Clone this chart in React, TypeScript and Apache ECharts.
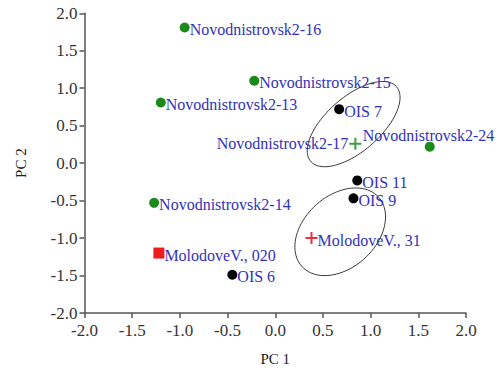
import React, { useEffect, useRef } from "react";
import * as echarts from "echarts";

// ---- data ----
const sampleNames = [
  "Novodnistrovsk2-16",
  "Novodnistrovsk2-15",
  "Novodnistrovsk2-13",
  "Novodnistrovsk2-14",
  "Novodnistrovsk2-24",
  "Novodnistrovsk2-17",
  "OIS 7",
  "OIS 11",
  "OIS 9",
  "OIS 6",
  "MolodoveV., 020",
  "MolodoveV., 31",
];
const pc1Values = [-0.95, -0.22, -1.2, -1.27, 1.62, 0.84, 0.67, 0.86, 0.82, -0.45, -1.22, 0.38];
const pc2Values = [1.81, 1.1, 0.81, -0.53, 0.22, 0.26, 0.72, -0.23, -0.47, -1.49, -1.2, -1.0];
const sampleGroups = [
  "novoDot", "novoDot", "novoDot", "novoDot", "novoDot", "novoPlus",
  "oisDot", "oisDot", "oisDot", "oisDot",
  "molSquare", "molPlus",
];
const axisTicks = [-2.0, -1.5, -1.0, -0.5, 0.0, 0.5, 1.0, 1.5, 2.0];

// confidence ellipses: center and two semi-axis vectors (data units)
const ellipseCenters = [
  [0.822, 0.521],
  [0.681, -0.916],
];
const ellipseMajor = [
  [0.448, 0.501],
  [0.398, 0.468],
];
const ellipseMinor = [
  [0.19, -0.27],
  [0.26, -0.351],
];

// ---- styles / layout ----
const PLUS = "path://M5,0H7V5H12V7H7V12H5V7H0V5H5Z";
const groupStyle: Record<string, any> = {
  novoDot: { symbol: "circle", size: 10, color: "#1b8a1b" },
  novoPlus: { symbol: PLUS, size: 12, color: "#3d9e3d" },
  oisDot: { symbol: "circle", size: 10, color: "#000000" },
  molSquare: { symbol: "rect", size: 11, color: "#ee1c1c" },
  molPlus: { symbol: PLUS, size: 12, color: "#e8303a" },
};
const labelPlacement: Record<string, any> = {
  "Novodnistrovsk2-17": { position: "left", distance: 1, offset: [0, 0] },
  "Novodnistrovsk2-24": { position: "right", distance: 0, offset: [-72, -11] },
};

export default function App() {
  const ref = useRef<HTMLDivElement>(null);
  useEffect(() => {
    document.body.style.margin = "0";
    const chart = echarts.init(ref.current!, null, { renderer: "svg" });
    const groupsOrder = ["novoDot", "novoPlus", "oisDot", "molSquare", "molPlus"];
    const scatterSeries = groupsOrder.map((g) => {
      const st = groupStyle[g];
      const data = sampleNames
        .map((n, i) => ({ n, i }))
        .filter((d) => sampleGroups[d.i] === g)
        .map(({ n, i }) => {
          const lp = labelPlacement[n] || { position: "right", distance: 0, offset: [0, 2] };
          return {
            name: n,
            value: [pc1Values[i], pc2Values[i]],
            label: {
              show: true,
              formatter: n,
              position: lp.position,
              distance: lp.distance,
              offset: lp.offset,
            },
          };
        });
      return {
        type: "scatter",
        symbol: st.symbol,
        symbolSize: st.size,
        itemStyle: { color: st.color, opacity: 1 },
        label: {
          color: "#3232bc",
          fontFamily: "Liberation Serif",
          fontSize: 16,
        },
        data,
        z: 3,
      };
    });
    const ellipseSeries = {
      type: "custom",
      coordinateSystem: "cartesian2d",
      data: ellipseCenters.map((c) => c),
      silent: true,
      z: 2,
      renderItem: (params: any, api: any) => {
        const k = params.dataIndex;
        const c = ellipseCenters[k];
        const a = ellipseMajor[k];
        const b = ellipseMinor[k];
        const pts: number[][] = [];
        for (let j = 0; j < 90; j++) {
          const t = (j / 90) * Math.PI * 2;
          const x = c[0] + a[0] * Math.cos(t) + b[0] * Math.sin(t);
          const y = c[1] + a[1] * Math.cos(t) + b[1] * Math.sin(t);
          pts.push(api.coord([x, y]));
        }
        return {
          type: "polygon",
          shape: { points: pts },
          style: { fill: "none", stroke: "#3a3a3a", lineWidth: 1 },
        };
      },
    };
    const axisCommon = {
      type: "value",
      min: axisTicks[0],
      max: axisTicks[axisTicks.length - 1],
      interval: 0.5,
      splitLine: { show: false },
      axisLine: { show: true, onZero: false, lineStyle: { color: "#555", width: 1.5 } },
      axisTick: { show: true, inside: false, length: 5, lineStyle: { color: "#555", width: 1.5 } },
      nameLocation: "middle",
      nameTextStyle: { fontFamily: "Liberation Serif", fontSize: 15, color: "#222" },
    };
    chart.setOption({
      animation: false,
      backgroundColor: "#ffffff",
      grid: { left: 84.5, right: 36, top: 13.3, bottom: 54.3 },
      xAxis: {
        ...axisCommon,
        name: "PC 1",
        nameGap: 38,
        axisLabel: {
          margin: 9,
          fontFamily: "Liberation Serif",
          fontSize: 17,
          color: "#333",
          formatter: (v: number) => v.toFixed(1),
        },
      },
      yAxis: {
        ...axisCommon,
        name: "PC 2",
        nameGap: 56,
        axisLabel: {
          margin: 7,
          fontFamily: "Liberation Serif",
          fontSize: 17,
          color: "#333",
          formatter: (v: number) => v.toFixed(1),
        },
      },
      series: [ellipseSeries, ...scatterSeries],
    });
    return () => chart.dispose();
  }, []);
  return (
    <div
      ref={ref}
      style={{ position: "fixed", left: 0, top: 0, width: 502, height: 371 }}
    />
  );
}
